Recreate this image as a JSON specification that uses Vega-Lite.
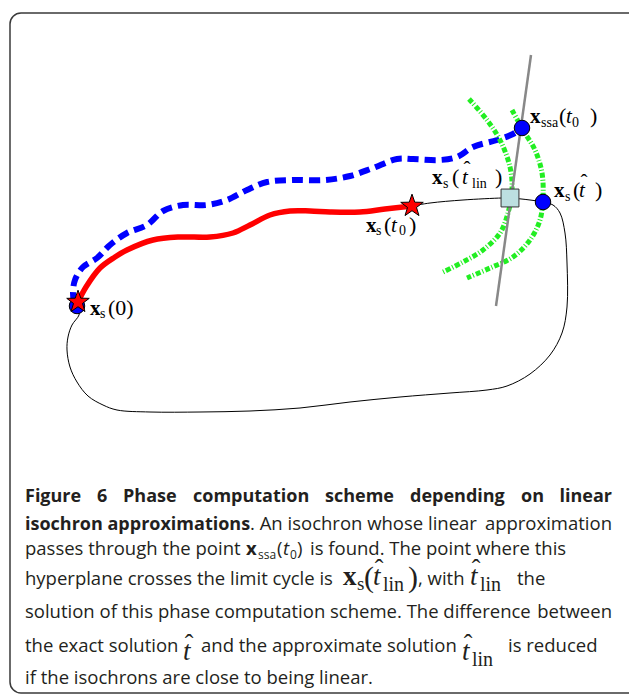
{
  "$schema": "https://vega.github.io/schema/vega-lite/v6.json",
  "width": 629,
  "height": 696,
  "autosize": {"type": "fit", "contains": "padding"},
  "padding": 0,
  "background": "white",
  "config": {"view": {"stroke": null}},
  "datasets": {
    "border": [{"x": 10, "y": 13, "x2": 700, "y2": 693}],
    "limit": [
      {"i": 0, "x": 412, "y": 206}, {"i": 1, "x": 430, "y": 203}, {"i": 2, "x": 463, "y": 200}, {"i": 3, "x": 502, "y": 198},
      {"i": 4, "x": 510, "y": 198}, {"i": 5, "x": 530, "y": 200}, {"i": 6, "x": 543, "y": 202}, {"i": 7, "x": 553, "y": 205},
      {"i": 8, "x": 560, "y": 213}, {"i": 9, "x": 565, "y": 233}, {"i": 10, "x": 567, "y": 263}, {"i": 11, "x": 567, "y": 307},
      {"i": 12, "x": 562, "y": 333}, {"i": 13, "x": 550, "y": 355}, {"i": 14, "x": 530, "y": 374}, {"i": 15, "x": 507, "y": 386},
      {"i": 16, "x": 487, "y": 390}, {"i": 17, "x": 450, "y": 393}, {"i": 18, "x": 400, "y": 397}, {"i": 19, "x": 350, "y": 402},
      {"i": 20, "x": 300, "y": 408}, {"i": 21, "x": 250, "y": 411}, {"i": 22, "x": 200, "y": 412}, {"i": 23, "x": 150, "y": 412},
      {"i": 24, "x": 117, "y": 410}, {"i": 25, "x": 103, "y": 405}, {"i": 26, "x": 88, "y": 396}, {"i": 27, "x": 77, "y": 382},
      {"i": 28, "x": 70, "y": 367}, {"i": 29, "x": 67, "y": 350}, {"i": 30, "x": 68, "y": 337}, {"i": 31, "x": 72, "y": 325},
      {"i": 32, "x": 79, "y": 315}, {"i": 33, "x": 79, "y": 308}, {"i": 34, "x": 78, "y": 303}
    ],
    "red": [
      {"i": 0, "x": 78, "y": 302}, {"i": 1, "x": 86, "y": 287}, {"i": 2, "x": 100, "y": 268}, {"i": 3, "x": 115, "y": 257},
      {"i": 4, "x": 127, "y": 250}, {"i": 5, "x": 153, "y": 240}, {"i": 6, "x": 180, "y": 237}, {"i": 7, "x": 210, "y": 237},
      {"i": 8, "x": 233, "y": 233}, {"i": 9, "x": 250, "y": 225}, {"i": 10, "x": 270, "y": 215}, {"i": 11, "x": 290, "y": 211},
      {"i": 12, "x": 310, "y": 211}, {"i": 13, "x": 330, "y": 212}, {"i": 14, "x": 360, "y": 212}, {"i": 15, "x": 385, "y": 209},
      {"i": 16, "x": 412, "y": 206}
    ],
    "blue": [
      {"i": 0, "x": 74, "y": 303}, {"i": 1, "x": 73, "y": 292}, {"i": 2, "x": 75, "y": 280}, {"i": 3, "x": 83, "y": 267},
      {"i": 4, "x": 97, "y": 258}, {"i": 5, "x": 110, "y": 245}, {"i": 6, "x": 127, "y": 233}, {"i": 7, "x": 147, "y": 225},
      {"i": 8, "x": 163, "y": 211}, {"i": 9, "x": 183, "y": 205}, {"i": 10, "x": 207, "y": 205}, {"i": 11, "x": 227, "y": 200},
      {"i": 12, "x": 247, "y": 190}, {"i": 13, "x": 267, "y": 182}, {"i": 14, "x": 293, "y": 180}, {"i": 15, "x": 325, "y": 180},
      {"i": 16, "x": 350, "y": 176}, {"i": 17, "x": 373, "y": 168}, {"i": 18, "x": 397, "y": 159}, {"i": 19, "x": 413, "y": 159},
      {"i": 20, "x": 440, "y": 160}, {"i": 21, "x": 457, "y": 157}, {"i": 22, "x": 473, "y": 147}, {"i": 23, "x": 497, "y": 140},
      {"i": 24, "x": 513, "y": 134}, {"i": 25, "x": 522, "y": 128}
    ],
    "greenL": [
      {"i": 0, "x": 469, "y": 99}, {"i": 1, "x": 487, "y": 120}, {"i": 2, "x": 500, "y": 140}, {"i": 3, "x": 510, "y": 167},
      {"i": 4, "x": 512, "y": 190}, {"i": 5, "x": 508, "y": 213}, {"i": 6, "x": 500, "y": 233}, {"i": 7, "x": 483, "y": 250},
      {"i": 8, "x": 463, "y": 262}, {"i": 9, "x": 443, "y": 272}
    ],
    "greenR": [
      {"i": 0, "x": 512, "y": 110}, {"i": 1, "x": 523, "y": 130}, {"i": 2, "x": 535, "y": 150}, {"i": 3, "x": 542, "y": 173},
      {"i": 4, "x": 543, "y": 197}, {"i": 5, "x": 540, "y": 220}, {"i": 6, "x": 530, "y": 240}, {"i": 7, "x": 513, "y": 257},
      {"i": 8, "x": 490, "y": 268}, {"i": 9, "x": 467, "y": 278}
    ],
    "gray": [{"i": 0, "x": 531, "y": 55}, {"i": 1, "x": 496, "y": 306}],
    "circles": [{"x": 77, "y": 306}, {"x": 522, "y": 128}, {"x": 543, "y": 202}],
    "stars": [{"x": 78, "y": 302}, {"x": 412, "y": 206}],
    "square": [{"x": 510, "y": 198}],
    "dBold": [{"x": 90, "y": 315, "t": "x"}, {"x": 366, "y": 232, "t": "x"}, {"x": 432, "y": 184, "t": "x"}, {"x": 530, "y": 123, "t": "x"}, {"x": 554, "y": 197, "t": "x"}],
    "dSub": [
      {"x": 100, "y": 318, "t": "s"}, {"x": 376, "y": 235, "t": "s"}, {"x": 443, "y": 188, "t": "s"}, {"x": 541, "y": 127, "t": "ssa"},
      {"x": 565, "y": 201, "t": "s"}, {"x": 399, "y": 235, "t": "0"}, {"x": 472, "y": 188, "t": "lin"}, {"x": 572, "y": 127, "t": "0"}
    ],
    "dReg": [
      {"x": 108, "y": 315, "t": "(0)"}, {"x": 384, "y": 232, "t": "("}, {"x": 409, "y": 232, "t": ")"}, {"x": 452, "y": 184, "t": "("},
      {"x": 495, "y": 184, "t": ")"}, {"x": 559, "y": 123, "t": "("}, {"x": 590, "y": 123, "t": ")"}, {"x": 573, "y": 197, "t": "("},
      {"x": 595, "y": 197, "t": ")"}
    ],
    "dItal": [{"x": 391, "y": 232, "t": "t"}, {"x": 462, "y": 184, "t": "t"}, {"x": 566, "y": 123, "t": "t"}, {"x": 579, "y": 197, "t": "t"}],
    "dHat": [{"x": 467, "y": 176, "t": "ˆ"}, {"x": 584, "y": 189, "t": "ˆ"}],
    "capBoldL": [
      {"x": 25, "y": 502, "t": "Figure"}, {"x": 97, "y": 502, "t": "6"}, {"x": 123, "y": 502, "t": "Phase"},
      {"x": 193, "y": 502, "t": "computation"}, {"x": 325, "y": 502, "t": "scheme"}, {"x": 410, "y": 502, "t": "depending"},
      {"x": 521, "y": 502, "t": "on"},
      {"x": 25, "y": 530, "t": "isochron approximations"}
    ],
    "capBoldR": [{"x": 612, "y": 502, "t": "linear"}],
    "capRegL": [
      {"x": 250, "y": 530, "t": ". An isochron whose linear"},
      {"x": 25, "y": 555, "t": "passes through the point"},
      {"x": 310, "y": 555, "t": "is found. The point where this"},
      {"x": 25, "y": 585, "t": "hyperplane crosses the limit cycle is"},
      {"x": 418, "y": 585, "t": ", with"},
      {"x": 517, "y": 585, "t": "the"},
      {"x": 25, "y": 618, "t": "solution of this phase computation scheme. The difference"},
      {"x": 25, "y": 652, "t": "the exact solution"},
      {"x": 201, "y": 652, "t": "and the approximate solution"},
      {"x": 508, "y": 652, "t": "is reduced"},
      {"x": 25, "y": 684, "t": "if the isochrons are close to being linear."}
    ],
    "capRegR": [{"x": 612, "y": 530, "t": "approximation"}, {"x": 612, "y": 618, "t": "between"}],
    "capSansBold": [{"x": 246, "y": 555, "t": "x"}],
    "capSansSub": [{"x": 258, "y": 559, "t": "ssa"}, {"x": 290, "y": 559, "t": "0"}],
    "capSansReg": [{"x": 277, "y": 555, "t": "("}, {"x": 297, "y": 555, "t": ")"}],
    "capSansItal": [{"x": 283, "y": 555, "t": "t"}],
    "capMathBold": [{"x": 343, "y": 585, "t": "x"}],
    "capMathSub": [{"x": 357, "y": 590, "t": "s"}],
    "capMathParen": [{"x": 364, "y": 587, "t": "("}, {"x": 408, "y": 587, "t": ")"}],
    "capMathItal": [{"x": 373, "y": 585, "t": "t"}, {"x": 470, "y": 585, "t": "t"}, {"x": 183, "y": 660, "t": "t"}, {"x": 462, "y": 660, "t": "t"}],
    "capMathLin": [{"x": 383, "y": 591, "t": "lin"}, {"x": 480, "y": 591, "t": "lin"}, {"x": 472, "y": 666, "t": "lin"}],
    "capMathHat": [{"x": 379, "y": 577, "t": "ˆ"}, {"x": 476, "y": 577, "t": "ˆ"}, {"x": 189, "y": 652, "t": "ˆ"}, {"x": 468, "y": 652, "t": "ˆ"}]
  },
  "encoding": {
    "x": {"field": "x", "type": "quantitative", "scale": {"domain": [0, 629], "nice": false, "zero": false}, "axis": null},
    "y": {"field": "y", "type": "quantitative", "scale": {"domain": [0, 696], "nice": false, "zero": false, "reverse": true}, "axis": null}
  },
  "layer": [
    {"data": {"name": "border"}, "mark": {"type": "rect", "filled": false, "stroke": "#3a3a3a", "strokeWidth": 1.5, "cornerRadius": 11, "clip": true},
     "encoding": {"x2": {"field": "x2"}, "y2": {"field": "y2"}}},
    {"data": {"name": "limit"}, "mark": {"type": "line", "interpolate": "catmull-rom", "color": "black", "strokeWidth": 1},
     "encoding": {"order": {"field": "i", "type": "quantitative"}}},
    {"data": {"name": "red"}, "mark": {"type": "line", "interpolate": "catmull-rom", "color": "#ff0000", "strokeWidth": 5.5},
     "encoding": {"order": {"field": "i", "type": "quantitative"}}},
    {"data": {"name": "blue"}, "mark": {"type": "line", "interpolate": "catmull-rom", "color": "#0000ff", "strokeWidth": 6, "strokeDash": [11, 6]},
     "encoding": {"order": {"field": "i", "type": "quantitative"}}},
    {"data": {"name": "greenL"}, "mark": {"type": "line", "interpolate": "catmull-rom", "color": "#22ee22", "strokeWidth": 5, "strokeDash": [5, 2, 1, 2]},
     "encoding": {"order": {"field": "i", "type": "quantitative"}}},
    {"data": {"name": "greenR"}, "mark": {"type": "line", "interpolate": "catmull-rom", "color": "#22ee22", "strokeWidth": 5, "strokeDash": [5, 2, 1, 2]},
     "encoding": {"order": {"field": "i", "type": "quantitative"}}},
    {"data": {"name": "gray"}, "mark": {"type": "line", "color": "#888888", "strokeWidth": 2.5},
     "encoding": {"order": {"field": "i", "type": "quantitative"}}},
    {"data": {"name": "circles"}, "mark": {"type": "point", "shape": "circle", "filled": true, "fill": "#0000ff", "stroke": "black", "strokeWidth": 1, "size": 240, "opacity": 1}},
    {"data": {"name": "square"}, "mark": {"type": "point", "shape": "square", "filled": true, "fill": "#bcdfe0", "stroke": "#333333", "strokeWidth": 1, "size": 320, "opacity": 1}},
    {"data": {"name": "stars"}, "mark": {"type": "point", "shape": "M0,-1L0.235,-0.324L0.951,-0.309L0.38,0.124L0.588,0.809L0,0.4L-0.588,0.809L-0.38,0.124L-0.951,-0.309L-0.235,-0.324Z", "filled": true, "fill": "#ff0000", "stroke": "black", "strokeWidth": 1, "size": 560, "opacity": 1}},
    {"data": {"name": "dBold"}, "mark": {"type": "text", "font": "Liberation Serif", "fontWeight": "bold", "fontSize": 21, "align": "left", "baseline": "alphabetic", "color": "black"}, "encoding": {"text": {"field": "t"}}},
    {"data": {"name": "dSub"}, "mark": {"type": "text", "font": "Liberation Serif", "fontSize": 14, "align": "left", "baseline": "alphabetic", "color": "black"}, "encoding": {"text": {"field": "t"}}},
    {"data": {"name": "dReg"}, "mark": {"type": "text", "font": "Liberation Serif", "fontSize": 22, "align": "left", "baseline": "alphabetic", "color": "black"}, "encoding": {"text": {"field": "t"}}},
    {"data": {"name": "dItal"}, "mark": {"type": "text", "font": "Liberation Serif", "fontStyle": "italic", "fontSize": 21, "align": "left", "baseline": "alphabetic", "color": "black"}, "encoding": {"text": {"field": "t"}}},
    {"data": {"name": "dHat"}, "mark": {"type": "text", "font": "Liberation Serif", "fontSize": 21, "align": "center", "baseline": "alphabetic", "color": "black"}, "encoding": {"text": {"field": "t"}}},
    {"data": {"name": "capBoldL"}, "mark": {"type": "text", "font": "Open Sans", "fontWeight": "bold", "fontSize": 18, "align": "left", "baseline": "alphabetic", "color": "#231f20"}, "encoding": {"text": {"field": "t"}}},
    {"data": {"name": "capBoldR"}, "mark": {"type": "text", "font": "Open Sans", "fontWeight": "bold", "fontSize": 18, "align": "right", "baseline": "alphabetic", "color": "#231f20"}, "encoding": {"text": {"field": "t"}}},
    {"data": {"name": "capRegL"}, "mark": {"type": "text", "font": "Open Sans", "fontSize": 18.5, "align": "left", "baseline": "alphabetic", "color": "#231f20"}, "encoding": {"text": {"field": "t"}}},
    {"data": {"name": "capRegR"}, "mark": {"type": "text", "font": "Open Sans", "fontSize": 18.5, "align": "right", "baseline": "alphabetic", "color": "#231f20"}, "encoding": {"text": {"field": "t"}}},
    {"data": {"name": "capSansBold"}, "mark": {"type": "text", "font": "Open Sans", "fontWeight": "bold", "fontSize": 18.5, "align": "left", "baseline": "alphabetic", "color": "#231f20"}, "encoding": {"text": {"field": "t"}}},
    {"data": {"name": "capSansSub"}, "mark": {"type": "text", "font": "Open Sans", "fontSize": 12, "align": "left", "baseline": "alphabetic", "color": "#231f20"}, "encoding": {"text": {"field": "t"}}},
    {"data": {"name": "capSansReg"}, "mark": {"type": "text", "font": "Open Sans", "fontSize": 18.5, "align": "left", "baseline": "alphabetic", "color": "#231f20"}, "encoding": {"text": {"field": "t"}}},
    {"data": {"name": "capSansItal"}, "mark": {"type": "text", "font": "Open Sans", "fontStyle": "italic", "fontSize": 18.5, "align": "left", "baseline": "alphabetic", "color": "#231f20"}, "encoding": {"text": {"field": "t"}}},
    {"data": {"name": "capMathBold"}, "mark": {"type": "text", "font": "Liberation Serif", "fontWeight": "bold", "fontSize": 27, "align": "left", "baseline": "alphabetic", "color": "#231f20"}, "encoding": {"text": {"field": "t"}}},
    {"data": {"name": "capMathSub"}, "mark": {"type": "text", "font": "Liberation Serif", "fontSize": 19, "align": "left", "baseline": "alphabetic", "color": "#231f20"}, "encoding": {"text": {"field": "t"}}},
    {"data": {"name": "capMathParen"}, "mark": {"type": "text", "font": "Liberation Serif", "fontSize": 30, "align": "left", "baseline": "alphabetic", "color": "#231f20"}, "encoding": {"text": {"field": "t"}}},
    {"data": {"name": "capMathItal"}, "mark": {"type": "text", "font": "Liberation Serif", "fontStyle": "italic", "fontSize": 27, "align": "left", "baseline": "alphabetic", "color": "#231f20"}, "encoding": {"text": {"field": "t"}}},
    {"data": {"name": "capMathLin"}, "mark": {"type": "text", "font": "Liberation Serif", "fontSize": 20, "align": "left", "baseline": "alphabetic", "color": "#231f20"}, "encoding": {"text": {"field": "t"}}},
    {"data": {"name": "capMathHat"}, "mark": {"type": "text", "font": "Liberation Serif", "fontSize": 26, "align": "center", "baseline": "alphabetic", "color": "#231f20"}, "encoding": {"text": {"field": "t"}}}
  ]
}
